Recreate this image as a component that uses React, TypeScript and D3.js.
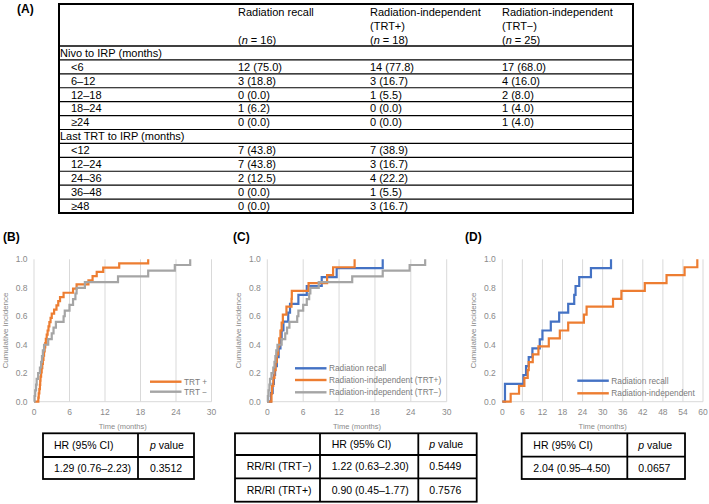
import React from 'react';
import * as d3 from 'd3';

const W = 709;
const H = 504;
const FONT = "'Liberation Sans', Arial, sans-serif";

// ---------- Table A data ----------
const groupNames = ['Radiation recall', 'Radiation-independent', 'Radiation-independent'];
const groupSub = ['', '(TRT+)', '(TRT\u2212)'];
const groupN = ['16', '18', '25'];
const rowLabels = ['Nivo to IRP (months)', '<6', '6\u201312', '12\u201318', '18\u201324', '\u226524',
  'Last TRT to IRP (months)', '<12', '12\u201324', '24\u201336', '36\u201348', '\u226548'];
const sectionRows = [0, 6];
const recallCol = ['', '12 (75.0)', '3 (18.8)', '0 (0.0)', '1 (6.2)', '0 (0.0)', '', '7 (43.8)', '7 (43.8)', '2 (12.5)', '0 (0.0)', '0 (0.0)'];
const trtPosCol = ['', '14 (77.8)', '3 (16.7)', '1 (5.5)', '0 (0.0)', '0 (0.0)', '', '7 (38.9)', '3 (16.7)', '4 (22.2)', '1 (5.5)', '3 (16.7)'];
const trtNegCol = ['', '17 (68.0)', '4 (16.0)', '2 (8.0)', '1 (4.0)', '1 (4.0)', '', '', '', '', '', ''];

// ---------- Curve data [time (months), cumulative incidence] ----------
const bTrtPos: [number, number][] = [
  [0.73, 0.029], [0.8, 0.059], [0.9, 0.088], [1.0, 0.118], [1.05, 0.147], [1.1, 0.176], [1.2, 0.206],
  [1.3, 0.235], [1.4, 0.265], [1.5, 0.294], [1.6, 0.324], [1.7, 0.353], [1.8, 0.382], [1.9, 0.412],
  [2.0, 0.441], [2.15, 0.471], [2.3, 0.5], [2.45, 0.529], [2.6, 0.559], [2.8, 0.588], [3.0, 0.618],
  [3.4, 0.647], [3.8, 0.676], [4.1, 0.706], [4.4, 0.735], [5.0, 0.765], [6.6, 0.794], [7.2, 0.824],
  [9.2, 0.853], [9.9, 0.882], [10.6, 0.912], [11.7, 0.941], [14.4, 0.971], [19.3, 1.0]];
const trtNeg: [number, number][] = [
  [0.1, 0.04], [0.2, 0.08], [0.35, 0.12], [0.45, 0.16], [0.7, 0.2], [1.0, 0.24], [1.2, 0.28],
  [1.35, 0.32], [1.5, 0.36], [1.7, 0.4], [2.4, 0.44], [3.0, 0.48], [3.3, 0.52], [3.7, 0.56],
  [5.0, 0.6], [5.2, 0.64], [6.0, 0.68], [6.6, 0.72], [7.0, 0.76], [7.2, 0.8], [8.6, 0.84],
  [14.2, 0.88], [19.3, 0.92], [23.8, 0.96], [26.4, 1.0]];
const cRecall: [number, number][] = [
  [0.6, 0.0625], [0.9, 0.125], [1.1, 0.1875], [1.3, 0.25], [1.6, 0.3125], [1.9, 0.375], [2.2, 0.4375],
  [2.4, 0.5], [2.7, 0.5625], [3.5, 0.625], [3.8, 0.6875], [5.2, 0.75], [6.6, 0.8125], [9.1, 0.875],
  [11.6, 0.9375], [19.3, 1.0]];
const cIndepPos: [number, number][] = [
  [0.7, 0.056], [0.8, 0.111], [1.0, 0.167], [1.2, 0.222], [1.4, 0.278], [1.6, 0.333], [1.8, 0.389],
  [2.0, 0.444], [2.2, 0.5], [2.4, 0.556], [2.6, 0.611], [3.2, 0.667], [4.05, 0.722], [4.1, 0.778],
  [6.9, 0.833], [10.0, 0.889], [11.0, 0.944], [14.6, 1.0]];
const dRecall: [number, number][] = [
  [0.8, 0.125], [6.3, 0.1875], [7.1, 0.25], [7.9, 0.3125], [9.0, 0.375], [11.2, 0.4375], [12.0, 0.5],
  [14.5, 0.5625], [17.0, 0.625], [19.7, 0.6875], [21.5, 0.75], [21.9, 0.8125], [23.0, 0.875],
  [26.5, 0.9375], [32.5, 1.0]];
const dIndep: [number, number][] = [
  [2.5, 0.056], [5.0, 0.111], [6.6, 0.167], [7.6, 0.222], [7.9, 0.278], [9.1, 0.333], [10.8, 0.389],
  [13.9, 0.444], [17.2, 0.5], [19.7, 0.556], [24.4, 0.611], [25.2, 0.667], [33.1, 0.722],
  [35.6, 0.778], [42.6, 0.833], [49.1, 0.889], [54.5, 0.944], [58.3, 1.0]];

const yTicks = [0, 0.2, 0.4, 0.6, 0.8, 1.0];
const xTicks30 = [0, 6, 12, 18, 24, 30];
const xTicks60 = [0, 6, 12, 18, 24, 30, 36, 42, 48, 54, 60];

const ORANGE = '#ED7D31';
const GRAY = '#A5A5A5';
const BLUE = '#4472C4';

// HR tables
const hrB = ['HR (95% CI)', '1.29 (0.76\u20132.23)'];
const pB = ['p value', '0.3512'];
const cLabels = ['', 'RR/RI (TRT\u2212)', 'RR/RI (TRT+)'];
const hrC = ['HR (95% CI)', '1.22 (0.63\u20132.30)', '0.90 (0.45\u20131.77)'];
const pC = ['p value', '0.5449', '0.7576'];
const hrD = ['HR (95% CI)', '2.04 (0.95\u20134.50)'];
const pD = ['p value', '0.0657'];

type Series = { name: string; color: string; data: [number, number][] };

function KMChart(props: {
  x0: number; x1: number; maxX: number; ticks: number[]; series: Series[];
  legendX: number; legendY: number[];
}) {
  const { x0, x1, maxX, ticks, series, legendX, legendY } = props;
  const top = 259.3, bottom = 401.7;
  const x = d3.scaleLinear().domain([0, maxX]).range([x0, x1]);
  const y = d3.scaleLinear().domain([0, 1]).range([bottom, top]);
  const line = d3.line<[number, number]>().x(d => x(d[0])).y(d => y(d[1])).curve(d3.curveStepAfter);
  return (
    <g>
      {ticks.map(t => (
        <line key={'g' + t} x1={x(t)} x2={x(t)} y1={y(1)} y2={y(0)} stroke="#D9D9D9" strokeWidth={1} />
      ))}
      <line x1={x(0)} x2={x(maxX)} y1={y(0)} y2={y(0)} stroke="#D9D9D9" strokeWidth={1} />
      {yTicks.map(t => (
        <text key={'y' + t} x={x0 - 6.5} y={y(t) + 3} textAnchor="end" fontSize={8.5} fill="#8a8a8a" fontFamily={FONT}>{t.toFixed(1)}</text>
      ))}
      {ticks.map(t => (
        <text key={'x' + t} x={x(t)} y={415} textAnchor="middle" fontSize={8.5} fill="#8a8a8a" fontFamily={FONT}>{t}</text>
      ))}
      <text x={(x0 + x1) / 2} y={429} textAnchor="middle" fontSize={7.5} fill="#8a8a8a" fontFamily={FONT}>Time (months)</text>
      <text transform={`translate(${x0 - 26},${(top + bottom) / 2}) rotate(-90)`} textAnchor="middle" fontSize={8} fill="#8a8a8a" fontFamily={FONT}>Cumulative incidence</text>
      {series.map(s => (
        <path key={s.name} d={line([[0, 0], ...s.data]) || ''} fill="none" stroke={s.color} strokeWidth={2.2} />
      ))}
      {series.map((s, i) => (
        <g key={'l' + s.name}>
          <line x1={legendX} x2={legendX + 31.5} y1={legendY[i]} y2={legendY[i]} stroke={s.color} strokeWidth={2.4} />
          <text x={legendX + 34} y={legendY[i] + 3} fontSize={8.3} fill="#7a7a7a" fontFamily={FONT}>{s.name}</text>
        </g>
      ))}
    </g>
  );
}

function PVal({ x, y, s }: { x: number; y: number; s: string }) {
  if (s === 'p value') {
    return (<text x={x} y={y} fontSize={10.5} fontFamily={FONT}><tspan fontStyle="italic">p</tspan> value</text>);
  }
  return <text x={x} y={y} fontSize={10.5} fontFamily={FONT}>{s}</text>;
}

function HRTable(props: { xs: number[]; ys: number[]; cols: string[][]; textX: number[] }) {
  const { xs, ys, cols, textX } = props;
  const xL = xs[0], xR = xs[xs.length - 1], yT = ys[0], yB = ys[ys.length - 1];
  return (
    <g>
      <rect x={xL} y={yT} width={xR - xL} height={yB - yT} fill="none" stroke="#000" strokeWidth={1.8} />
      {ys.slice(1, -1).map((yy, i) => <line key={'h' + i} x1={xL} x2={xR} y1={yy} y2={yy} stroke="#000" strokeWidth={1.8} />)}
      {xs.slice(1, -1).map((xx, i) => <line key={'v' + i} x1={xx} x2={xx} y1={yT} y2={yB} stroke="#000" strokeWidth={1.8} />)}
      {cols.map((col, ci) => col.map((s, ri) => {
        const cy = (ys[ri] + ys[ri + 1]) / 2 + 3.7;
        return <PVal key={ci + '-' + ri} x={textX[ci]} y={cy} s={s} />;
      }))}
    </g>
  );
}

export default function App() {
  const tL = 59, tR = 633, tT = 4, tB = 213, rowTop = 46;
  const rowY = d3.scaleLinear().domain([0, rowLabels.length]).range([rowTop, tB]);
  const colX = [238, 370, 502];
  const dataCols = [recallCol, trtPosCol, trtNegCol];

  return (
    <svg width={W} height={H} style={{ position: 'absolute', left: 0, top: 0, background: '#fff' }} fontFamily={FONT}>
      {/* Panel labels */}
      <text x={17} y={13} fontSize={12} fontWeight="bold" fontFamily={FONT}>(A)</text>
      <text x={3} y={241} fontSize={12} fontWeight="bold" fontFamily={FONT}>(B)</text>
      <text x={233} y={241} fontSize={12} fontWeight="bold" fontFamily={FONT}>(C)</text>
      <text x={465} y={241} fontSize={12} fontWeight="bold" fontFamily={FONT}>(D)</text>

      {/* Table A */}
      <rect x={tL} y={tT} width={tR - tL} height={tB - tT} fill="none" stroke="#000" strokeWidth={2} />
      {d3.range(0, rowLabels.length).map(i => (
        <line key={'rl' + i} x1={tL} x2={tR} y1={rowY(i)} y2={rowY(i)} stroke="#000" strokeWidth={i === 0 ? 1.6 : 1.2} />
      ))}
      {groupNames.map((g, i) => (
        <g key={'hd' + i}>
          <text x={colX[i]} y={16} fontSize={11}>{g}</text>
          {groupSub[i] && <text x={colX[i]} y={30} fontSize={11}>{groupSub[i]}</text>}
          <text x={colX[i]} y={44} fontSize={11}>(<tspan fontStyle="italic">n</tspan> = {groupN[i]})</text>
        </g>
      ))}
      {rowLabels.map((r, i) => (
        <text key={'lab' + i} x={sectionRows.includes(i) ? 60 : 71} y={rowY(i) + 10.8} fontSize={11}>{r}</text>
      ))}
      {dataCols.map((col, ci) => col.map((v, ri) => v ? (
        <text key={ci + 'v' + ri} x={colX[ci]} y={rowY(ri) + 10.8} fontSize={11}>{v}</text>
      ) : null))}

      {/* Charts */}
      <KMChart x0={34} x1={211.5} maxX={30} ticks={xTicks30}
        series={[{ name: 'TRT +', color: ORANGE, data: bTrtPos }, { name: 'TRT \u2212', color: GRAY, data: trtNeg }]}
        legendX={150} legendY={[381.7, 391.7]} />
      <KMChart x0={267.3} x1={446.7} maxX={30} ticks={xTicks30}
        series={[
          { name: 'Radiation recall', color: BLUE, data: cRecall },
          { name: 'Radiation-independent (TRT+)', color: ORANGE, data: cIndepPos },
          { name: 'Radiation-independent (TRT\u2212)', color: GRAY, data: trtNeg }]}
        legendX={295} legendY={[368.3, 380, 392.3]} />
      <KMChart x0={502.3} x1={703} maxX={60} ticks={xTicks60}
        series={[{ name: 'Radiation recall', color: BLUE, data: dRecall }, { name: 'Radiation-independent', color: ORANGE, data: dIndep }]}
        legendX={577.3} legendY={[380.7, 393.3]} />

      {/* HR tables */}
      <HRTable xs={[43, 138, 194]} ys={[433.3, 457, 479]} cols={[hrB, pB]} textX={[54, 150]} />
      <HRTable xs={[235, 320, 418.3, 476.7]} ys={[433.3, 455, 478.3, 501.7]} cols={[cLabels, hrC, pC]} textX={[246.7, 331.7, 429.3]} />
      <HRTable xs={[521.7, 627.3, 685]} ys={[433.3, 456.7, 479]} cols={[hrD, pD]} textX={[533.3, 638.3]} />
    </svg>
  );
}
